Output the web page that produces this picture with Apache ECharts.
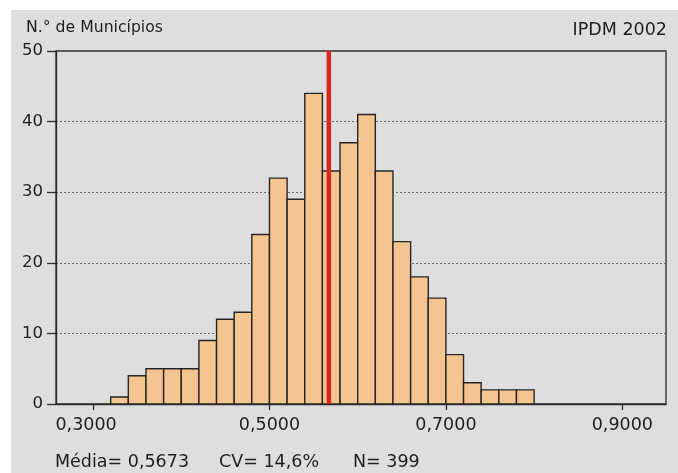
<!DOCTYPE html>
<html>
<head>
<meta charset="utf-8">
<script src="https://cdn.jsdelivr.net/npm/echarts@6/dist/echarts.min.js"></script>
<style>
html,body{margin:0;padding:0;background:#fff;}
#c{width:678px;height:473px;}
</style>
</head>
<body>
<div id="c"></div>
<script>
// Histogram bins (lower edge) and counts
const binStarts = [0.32,0.34,0.36,0.38,0.40,0.42,0.44,0.46,0.48,0.50,0.52,0.54,0.56,0.58,0.60,0.62,0.64,0.66,0.68,0.70,0.72,0.74,0.76,0.78];
const binWidth = 0.02;
const counts = [1,4,5,5,5,9,12,13,24,32,29,44,33,37,41,33,23,18,15,7,3,2,2,2];
const meanValue = 0.5673;
const xTicks = [0.3,0.5,0.7,0.9];
const yTitle = 'N.° de Municípios';
const chartLabel = 'IPDM 2002';
const footerTexts = ['Média= 0,5673','CV= 14,6%','N= 399'];

const FONT = 'DejaVu Sans';
const TXT = '#1e1e1e';

const histData = binStarts.map((s,i)=>[s, s+binWidth, counts[i]]);

const chart = echarts.init(document.getElementById('c'), null, {renderer:'canvas'});
chart.setOption({
  animation:false,
  backgroundColor:'#ffffff',
  textStyle:{fontFamily:FONT},
  title:[
    {text:yTitle,left:26,top:20,padding:0,textStyle:{fontFamily:FONT,fontSize:15.7,fontWeight:'normal',color:TXT}},
    {text:chartLabel,right:11,top:21,padding:0,textStyle:{fontFamily:FONT,fontSize:17.5,fontWeight:'normal',color:TXT}}
  ],
  graphic:[
    {type:'rect',left:11,top:10,z:-10,shape:{width:667,height:463},style:{fill:'#dedede'}},
    {type:'text',left:55,top:453,style:{text:footerTexts[0],font:'17.5px "'+FONT+'"',fill:TXT}},
    {type:'text',left:219,top:453,style:{text:footerTexts[1],font:'17.5px "'+FONT+'"',fill:TXT}},
    {type:'text',left:353,top:453,style:{text:footerTexts[2],font:'17.5px "'+FONT+'"',fill:TXT}}
  ],
  grid:{left:56,top:51,right:12,bottom:69,show:true,borderColor:'#2a2a2a',borderWidth:1.3,backgroundColor:'transparent'},
  xAxis:{
    type:'value',min:0.258,max:0.9495,
    axisLine:{show:true,lineStyle:{color:'#2a2a2a',width:1.3}},
    axisTick:{show:true,length:6,customValues:xTicks,lineStyle:{color:'#2a2a2a',width:1.3}},
    axisLabel:{customValues:xTicks,margin:12,fontSize:17.5,color:TXT,fontFamily:FONT,
      formatter:function(v){
        const s=v.toFixed(4).replace('.',',');
        return Math.abs(v-xTicks[0])<1e-9 ? '{first|'+s+'}' : s;
      },
      rich:{first:{fontSize:17.5,fontFamily:FONT,color:TXT,padding:[0,14,0,0]}}
    },
    splitLine:{show:false}
  },
  yAxis:{
    type:'value',min:0,max:50,interval:10,
    axisLine:{show:true,lineStyle:{color:'#2a2a2a',width:1.3}},
    axisTick:{show:true,length:9,lineStyle:{color:'#2a2a2a',width:1.3}},
    axisLabel:{margin:13,fontSize:16.5,color:TXT,fontFamily:FONT},
    splitLine:{show:true,lineStyle:{color:'#666',width:1,type:[2,2]}}
  },
  series:[
    {
      type:'custom',
      data:histData,
      encode:{x:[0,1],y:2},
      renderItem:function(params,api){
        const x0=api.value(0),x1=api.value(1),y=api.value(2);
        const p0=api.coord([x0,y]);
        const p1=api.coord([x1,0]);
        return {type:'rect',shape:{x:p0[0],y:p0[1],width:p1[0]-p0[0],height:p1[1]-p0[1]},
          style:{fill:'#f5c590',stroke:'#262626',lineWidth:1.4}};
      },
      z:2
    },
    {
      type:'line',
      data:[[meanValue,0],[meanValue,50]],
      symbol:'none',
      lineStyle:{color:'#d8261d',width:4.5},
      z:5
    }
  ]
});
</script>
</body>
</html>
